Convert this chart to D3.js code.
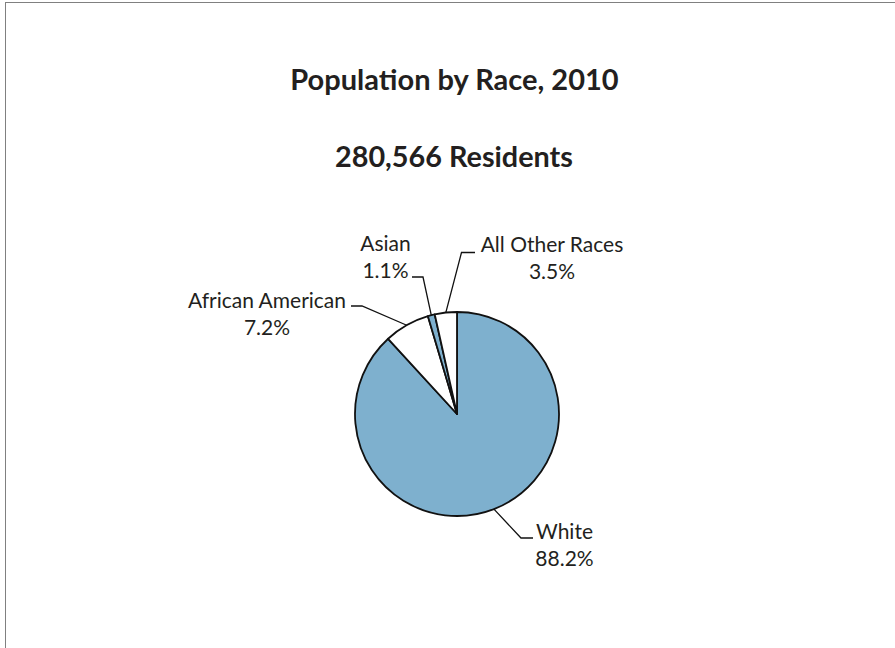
<!DOCTYPE html>
<html>
<head>
<meta charset="utf-8">
<script src="https://cdn.jsdelivr.net/npm/d3@7"></script>
<style>
  html, body { margin: 0; padding: 0; background: #fff; }
  svg { display: block; }
  text { font-family: Lato, "Open Sans", sans-serif; fill: #231f20; }
</style>
</head>
<body>
<svg id="chart" width="895" height="648"></svg>
<script>
// Population shares by race (percent of residents)
const categories = ["White", "African American", "Asian", "All Other Races"];
const shares = [88.2, 7.2, 1.1, 3.5];
const shareLabels = ["88.2%", "7.2%", "1.1%", "3.5%"];

const titleText = "Population by Race, 2010";
const subtitleText = "280,566 Residents";

const W = 895, H = 648;
const cx = 457, cy = 414, R = 102;

const fills = ["#7eb0ce", "#ffffff", "#7eb0ce", "#ffffff"];

// Label placement: leader elbow, end of horizontal run, text anchor
const labelLayout = [
  { elbow: [521, 538], end: [533, 538], tx: 564.5, ty: 539 },
  { elbow: [362, 306], end: [351, 306], tx: 267,   ty: 308 },
  { elbow: [423, 277], end: [412, 277], tx: 385.5, ty: 251 },
  { elbow: [461.5, 252.5], end: [475, 252.5], tx: 552, ty: 252 }
];

const svg = d3.select("#chart");

// Outer frame (only top and left edges fall inside the view)
svg.append("rect")
  .attr("x", 5.5).attr("y", 2.5)
  .attr("width", W + 20).attr("height", H + 20)
  .attr("fill", "none")
  .attr("stroke", "#808080")
  .attr("stroke-width", 1);

svg.append("text")
  .attr("x", 454.5).attr("y", 90)
  .attr("text-anchor", "middle")
  .attr("font-weight", 700)
  .attr("font-size", 29)
  .text(titleText);

svg.append("text")
  .attr("x", 454).attr("y", 167)
  .attr("text-anchor", "middle")
  .attr("font-weight", 700)
  .attr("font-size", 28.8)
  .text(subtitleText);

const data = categories.map((c, i) => ({ name: c, value: shares[i], label: shareLabels[i], fill: fills[i], layout: labelLayout[i] }));

const pie = d3.pie().sort(null).value(d => d.value).startAngle(0).endAngle(2 * Math.PI);
const arc = d3.arc().innerRadius(0).outerRadius(R);
const arcs = pie(data);

const g = svg.append("g").attr("transform", `translate(${cx},${cy})`);

g.selectAll("path.slice")
  .data(arcs)
  .join("path")
  .attr("class", "slice")
  .attr("d", arc)
  .attr("fill", d => d.data.fill)
  .attr("stroke", "#111")
  .attr("stroke-width", 1.8)
  .attr("stroke-linejoin", "round");

// Leader lines from each slice's outer midpoint
const line = d3.line();
svg.selectAll("path.leader")
  .data(arcs)
  .join("path")
  .attr("class", "leader")
  .attr("fill", "none")
  .attr("stroke", "#111")
  .attr("stroke-width", 1.3)
  .attr("d", d => {
    const a = (d.startAngle + d.endAngle) / 2;
    const p0 = [cx + R * Math.sin(a), cy - R * Math.cos(a)];
    return line([p0, d.data.layout.elbow, d.data.layout.end]);
  });

const labels = svg.selectAll("g.label")
  .data(arcs)
  .join("g")
  .attr("class", "label");

labels.append("text")
  .attr("x", d => d.data.layout.tx)
  .attr("y", d => d.data.layout.ty)
  .attr("text-anchor", "middle")
  .attr("font-size", 21)
  .text(d => d.data.name);

labels.append("text")
  .attr("x", d => d.data.layout.tx)
  .attr("y", d => d.data.layout.ty + 26.5)
  .attr("text-anchor", "middle")
  .attr("font-size", 21)
  .text(d => d.data.label);
</script>
</body>
</html>
